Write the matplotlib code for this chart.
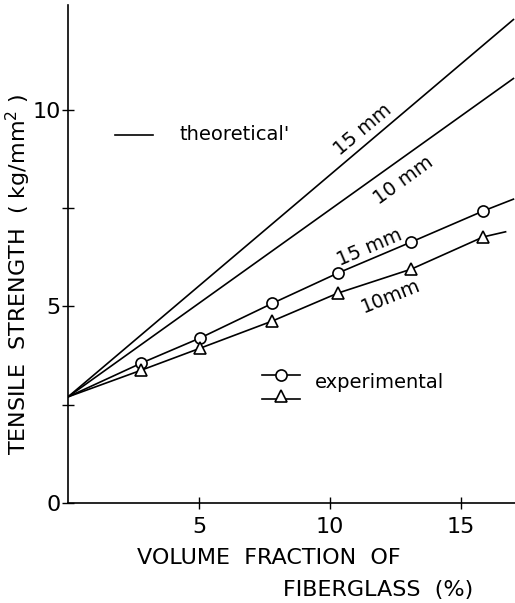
"""
Tensile strength vs fiberglass volume fraction (theoretical and experimental)
"""

import matplotlib
matplotlib.use('Agg')
import matplotlib.pyplot as plt
from matplotlib.lines import Line2D

# Data
intercept = 2.7
theory_x = [0, 17.0]
theory_15mm = [2.7, 12.3]
theory_10mm = [2.7, 10.8]

exp_x = [2.8, 5.05, 7.8, 10.3, 13.1, 15.85]
exp_15mm = [3.56, 4.2, 5.08, 5.85, 6.64, 7.43]
exp_10mm = [3.38, 3.94, 4.63, 5.34, 5.95, 6.77]
exp_15mm_end = (17.0, 7.73)
exp_10mm_end = (16.7, 6.9)

xticks = [5, 10, 15]
xtick_labels = ['5', '10', '15']
yticks = [0, 2.5, 5, 7.5, 10]
ytick_labels = ['0', '', '5', '', '10']

plt.rcParams['font.family'] = ['DejaVu Sans']

fig = plt.figure(figsize=(5.15, 6.03), dpi=100)
ax = fig.add_axes([68 / 515, 100 / 603, 447 / 515, 498 / 603])

lw = 1.2
ax.plot(theory_x, theory_15mm, color='black', linewidth=lw)
ax.plot(theory_x, theory_10mm, color='black', linewidth=lw)

# Experimental lines start from the matrix strength at zero fiber
ax.plot([0] + exp_x + [exp_15mm_end[0]], [intercept] + exp_15mm + [exp_15mm_end[1]],
        color='black', linewidth=lw)
ax.plot([0] + exp_x + [exp_10mm_end[0]], [intercept] + exp_10mm + [exp_10mm_end[1]],
        color='black', linewidth=lw)
ax.plot(exp_x, exp_15mm, linestyle='none', marker='o', markersize=8,
        markerfacecolor='white', markeredgecolor='black', markeredgewidth=1.2)
ax.plot(exp_x, exp_10mm, linestyle='none', marker='^', markersize=9,
        markerfacecolor='white', markeredgecolor='black', markeredgewidth=1.2)

# Line labels
fs_lbl = 14
ax.text(11.25, 9.5, '15 mm', rotation=40, ha='center', va='center', fontsize=fs_lbl)
ax.text(12.8, 8.2, '10 mm', rotation=36, ha='center', va='center', fontsize=fs_lbl)
ax.text(11.5, 6.5, '15 mm', rotation=23, ha='center', va='center', fontsize=fs_lbl)
ax.text(12.3, 5.25, '10mm', rotation=22, ha='center', va='center', fontsize=fs_lbl)

# Hand-made legends
tr = ax.transAxes
ax.add_line(Line2D([0.105, 0.19], [0.739, 0.739], transform=tr, color='black', linewidth=lw))
ax.text(0.25, 0.739, "theoretical'", transform=tr, ha='left', va='center', fontsize=14)

ax.add_line(Line2D([0.434, 0.519], [0.257, 0.257], transform=tr, color='black', linewidth=lw))
ax.add_line(Line2D([0.4765], [0.257], transform=tr, linestyle='none', marker='o', markersize=8,
                   markerfacecolor='white', markeredgecolor='black', markeredgewidth=1.2))
ax.add_line(Line2D([0.434, 0.519], [0.209, 0.209], transform=tr, color='black', linewidth=lw))
ax.add_line(Line2D([0.4765], [0.215], transform=tr, linestyle='none', marker='^', markersize=9,
                   markerfacecolor='white', markeredgecolor='black', markeredgewidth=1.2))
ax.text(0.553, 0.241, 'experimental', transform=tr, ha='left', va='center', fontsize=14)

# Axes formatting
ax.set_xlim(0, 17.06)
ax.set_ylim(0, 12.67)
ax.spines['top'].set_visible(False)
ax.spines['right'].set_visible(False)
ax.spines['left'].set_linewidth(1.2)
ax.spines['bottom'].set_linewidth(1.2)
ax.set_xticks(xticks)
ax.set_xticklabels(xtick_labels)
ax.set_yticks(yticks)
ax.set_yticklabels(ytick_labels)
ax.tick_params(direction='inout', length=8, width=1.0, labelsize=16)
ax.tick_params(axis='y', pad=1)
ax.tick_params(axis='x', pad=6)

fig.text(18 / 515, 1 - 274 / 603, 'TENSILE  STRENGTH  ( kg/mm$^2$ )', rotation=90,
         ha='center', va='center', fontsize=16)
fig.text(137 / 515, 1 - 558 / 603, 'VOLUME  FRACTION  OF', ha='left', va='center', fontsize=16)
fig.text(283 / 515, 1 - 590 / 603, 'FIBERGLASS  (%)', ha='left', va='center', fontsize=16)

fig.savefig('out.png', dpi=100)
